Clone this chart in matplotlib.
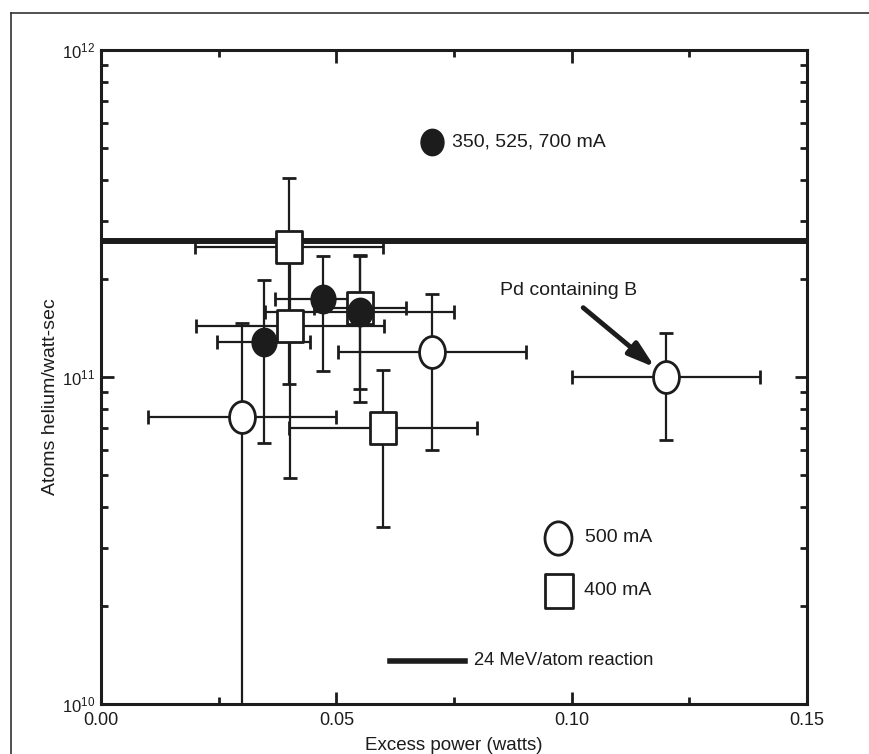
import numpy as np
import matplotlib
matplotlib.use("Agg")
import matplotlib.pyplot as plt
from matplotlib.path import Path
from matplotlib.lines import Line2D
from matplotlib.ticker import FixedLocator, LogLocator, FormatStrFormatter, NullFormatter

plt.rcParams['font.family'] = ['Liberation Sans', 'DejaVu Sans']
plt.rcParams['mathtext.default'] = 'regular'

# 500 mA (open circles)
x_500 = [0.0300, 0.0703, 0.1200]
y_500 = [7.55e10, 1.19e11, 1.00e11]
xerr_500 = [0.020, 0.020, 0.020]
yerr_500_lo = [7.1e10, 5.9e10, 3.6e10]
yerr_500_hi = [7.1e10, 6.1e10, 3.6e10]

# 400 mA (open squares)
x_400 = [0.0400, 0.0402, 0.0550, 0.0599]
y_400 = [2.50e11, 1.43e11, 1.62e11, 6.98e10]
xerr_400 = [0.020, 0.020, 0.0098, 0.020]
yerr_400_lo = [1.55e11, 9.4e10, 7.8e10, 3.5e10]
yerr_400_hi = [1.57e11, 9.4e10, 7.4e10, 3.5e10]

# 350, 525, 700 mA (filled circles)
x_mix = [0.0346, 0.0472, 0.0550]
y_mix = [1.28e11, 1.73e11, 1.58e11]
xerr_mix = [0.0099, 0.0102, 0.0201]
yerr_mix_lo = [6.5e10, 6.9e10, 6.6e10]
yerr_mix_hi = [7.0e10, 6.1e10, 7.6e10]

# 24 MeV/atom reaction
y_reaction = 2.6e11

# arrow tip for "Pd containing B"
pd_tip = (0.1177, 1.07e11)

ink = '#1c1c1c'


def ellipse_marker(ratio):
    c = Path.unit_circle()
    v = c.vertices.copy()
    v[:, 0] *= ratio
    return Path(v, c.codes)


def rect_marker(ratio):
    return Path([(-ratio, -1), (ratio, -1), (ratio, 1), (-ratio, 1), (-ratio, -1)],
                [Path.MOVETO, Path.LINETO, Path.LINETO, Path.LINETO, Path.CLOSEPOLY])


circ = ellipse_marker(0.81)
circ_f = ellipse_marker(0.87)
sq = rect_marker(0.83)

fig = plt.figure(figsize=(8.69, 7.54), dpi=100)
ax = fig.add_axes([101 / 869, 50 / 754, 706 / 869, 654 / 754])

eb = dict(fmt='none', ecolor=ink, elinewidth=1.6, capsize=4.7, capthick=2.0, zorder=2)
ax.errorbar(x_500, y_500, xerr=xerr_500, yerr=[yerr_500_lo, yerr_500_hi], **eb)
ax.errorbar(x_400, y_400, xerr=xerr_400, yerr=[yerr_400_lo, yerr_400_hi], **eb)
ax.errorbar(x_mix, y_mix, xerr=xerr_mix, yerr=[yerr_mix_lo, yerr_mix_hi], **eb)

ax.axhline(y_reaction, color=ink, lw=4.3, zorder=2.5)

ax.plot(x_500, y_500, ls='none', marker=circ, ms=23, mfc='white', mec=ink, mew=2.0, zorder=3)
ax.plot(x_400, y_400, ls='none', marker=sq, ms=22.5, mfc='white', mec=ink, mew=2.0, zorder=3)
ax.plot(x_mix, y_mix, ls='none', marker=circ_f, ms=20, mfc=ink, mec=ink, mew=1.5, zorder=4)

ax.set_yscale('log')
ax.set_xlim(0, 0.15)
ax.set_ylim(1e10, 1e12)

ax.xaxis.set_major_locator(FixedLocator([0.0, 0.05, 0.10, 0.15]))
ax.xaxis.set_minor_locator(FixedLocator([0.025, 0.075, 0.125]))
ax.xaxis.set_major_formatter(FormatStrFormatter('%.2f'))
ax.yaxis.set_major_locator(LogLocator(base=10, numticks=5))
ax.yaxis.set_minor_locator(LogLocator(base=10, subs=np.arange(2, 10), numticks=20))
ax.yaxis.set_minor_formatter(NullFormatter())

ax.tick_params(which='both', direction='in', top=True, right=True, color=ink,
               labelcolor=ink)
ax.tick_params(which='major', length=9, width=2)
ax.tick_params(which='minor', length=5, width=2)
ax.tick_params(axis='x', pad=6, labelsize=13)
ax.tick_params(axis='y', pad=4, labelsize=12)
for s in ax.spines.values():
    s.set_linewidth(2.2)
    s.set_color(ink)

ax.set_xlabel('Excess power (watts)', fontsize=13.5, color=ink)
ax.set_ylabel('Atoms helium/watt-sec', fontsize=14, color=ink)
ax.xaxis.set_label_coords(0.5, -0.05)
ax.yaxis.set_label_coords(-0.06, 0.47)

# in-plot key
fs = 14
ax.plot([0.469], [0.859], transform=ax.transAxes, marker=circ_f, ms=19, mfc=ink, mec=ink, clip_on=False)
ax.text(0.497, 0.859, '350, 525, 700 mA', transform=ax.transAxes, va='center', fontsize=fs, color=ink)
ax.plot([0.647], [0.254], transform=ax.transAxes, marker=circ, ms=24, mfc='white', mec=ink, mew=2.0)
ax.text(0.686, 0.254, '500 mA', transform=ax.transAxes, va='center', fontsize=fs, color=ink)
ax.plot([0.649], [0.173], transform=ax.transAxes, marker=sq, ms=24, mfc='white', mec=ink, mew=2.0)
ax.text(0.684, 0.173, '400 mA', transform=ax.transAxes, va='center', fontsize=fs, color=ink)
ax.plot([0.409, 0.516], [0.066, 0.066], transform=ax.transAxes, color=ink, lw=4)
ax.text(0.528, 0.066, '24 MeV/atom reaction', transform=ax.transAxes, va='center', fontsize=13.2, color=ink)

ax.annotate('Pd containing B', xy=pd_tip, xycoords='data',
            xytext=(0.565, 0.633), textcoords='axes fraction', va='center', ha='left',
            fontsize=fs, color=ink)
ax.annotate('', xy=pd_tip, xycoords='data', xytext=(0.683, 0.606), textcoords='axes fraction',
            arrowprops=dict(arrowstyle='-|>,head_length=1.6,head_width=0.5', lw=3.5, color=ink,
                            shrinkA=0, shrinkB=0))

# outer frame of the scanned figure
fig.add_artist(Line2D([11 / 869, 11 / 869], [0, 1 - 13 / 754], transform=fig.transFigure, color='#333333', lw=1.2))
fig.add_artist(Line2D([11 / 869, 1], [1 - 13 / 754, 1 - 13 / 754], transform=fig.transFigure, color='#333333', lw=1.2))

fig.savefig('out.png', dpi=100)
